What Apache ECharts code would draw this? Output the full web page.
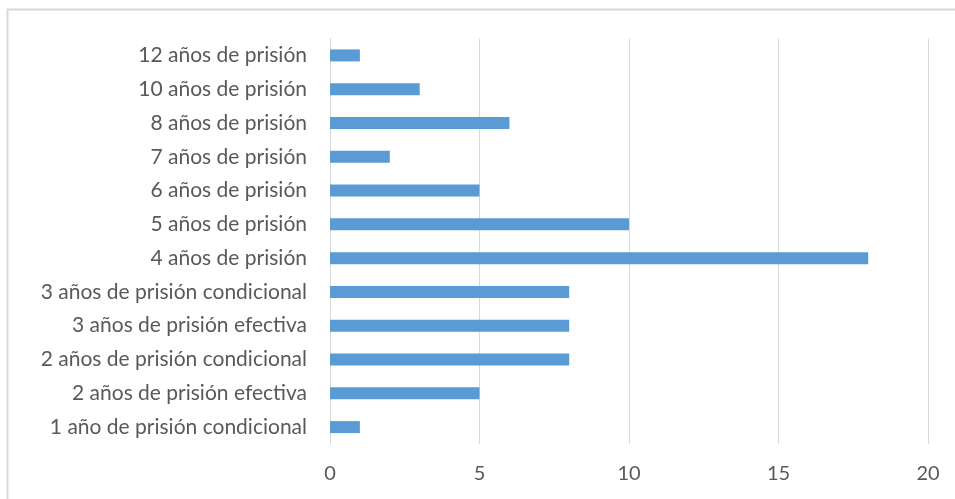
<!DOCTYPE html>
<html><head><meta charset="utf-8">
<script src="https://cdn.jsdelivr.net/npm/echarts@6/dist/echarts.min.js"></script>
<style>html,body{margin:0;padding:0;background:#fff}#c{width:955px;height:499px}</style>
</head><body><div id="c"></div>
<script>
const categories = [
  "1 año de prisión condicional",
  "2 años de prisión efectiva",
  "2 años de prisión condicional",
  "3 años de prisión efectiva",
  "3 años de prisión condicional",
  "4 años de prisión",
  "5 años de prisión",
  "6 años de prisión",
  "7 años de prisión",
  "8 años de prisión",
  "10 años de prisión",
  "12 años de prisión"
];
const values = [1, 5, 8, 8, 8, 18, 10, 5, 2, 6, 3, 1];
const xTicks = [0, 5, 10, 15, 20];

const chart = echarts.init(document.getElementById('c'), null, {renderer: 'canvas'});
const font = "Lato, 'Open Sans', sans-serif";
chart.setOption({
  animation: false,
  backgroundColor: '#fff',
  graphic: [{
    type: 'rect', silent: true,
    shape: {x: 7.5, y: 9.5, width: 1000, height: 600},
    style: {fill: 'none', stroke: '#d9d9d9', lineWidth: 2}
  }],
  grid: {left: 330, right: 27, top: 38.5, bottom: 55, containLabel: false},
  xAxis: {
    type: 'value', min: xTicks[0], max: xTicks[xTicks.length - 1], interval: 5,
    axisLine: {show: false}, axisTick: {show: false},
    splitLine: {show: true, lineStyle: {color: '#d9d9d9', width: 1}},
    axisLabel: {color: '#595959', fontSize: 20, fontFamily: font, margin: 20}
  },
  yAxis: {
    type: 'category', data: categories,
    axisLine: {show: true, lineStyle: {color: '#d9d9d9', width: 1}},
    axisTick: {show: false},
    axisLabel: {color: '#595959', fontSize: 21, fontFamily: font, margin: 23}
  },
  series: [{
    type: 'bar', data: values, barWidth: 12,
    itemStyle: {color: '#5b9bd5'}
  }]
});
</script></body></html>
